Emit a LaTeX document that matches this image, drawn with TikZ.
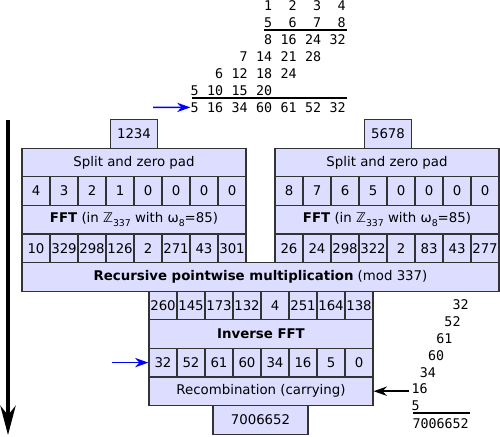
\documentclass[tikz,border=0pt]{standalone}
\usepackage{fontspec}
\setmainfont{DejaVu Sans}
\setmonofont{DejaVu Sans Mono}
\usetikzlibrary{arrows.meta}
\definecolor{cellfill}{RGB}{221,221,255}
\definecolor{cellline}{RGB}{51,51,51}
\newcommand{\lowtext}[1]{\raisebox{-0.45ex}{\scriptsize #1}}

\begin{document}
\begin{tikzpicture}[x=0.75pt,y=0.75pt,yscale=-1,
  cell/.style={draw=cellline,fill=cellfill,line width=0.9pt,inner sep=0pt,minimum width=21pt,minimum height=21.45pt},
  bar/.style={cell,minimum width=168pt},
  widebar/.style={cell,minimum width=357.75pt},
  numbox/.style={cell,minimum width=35.25pt},
  digit/.style={font=\ttfamily,inner sep=0pt,anchor=east},
  pointer/.style={-{Stealth[length=10pt,width=7pt]},line width=1.2pt}]

\useasboundingbox (0,0) rectangle (500,436);

%Long hand product 
\foreach \r/\c/\vals in {1/3/{1,2,3,4},2/3/{5,6,7,8},3/3/{8,16,24,32},4/2/{7,14,21,28},5/1/{6,12,18,24},6/0/{5,10,15,20},7/0/{5,16,34,60,61,52,32}}
  \foreach \v [count=\i from \c] in \vals
    \node[digit] (p-\r-\i) at (199+24.5*\i,6+16.9*\r-16.9) {\v};
\draw [line width=1pt] (264,30) -- (347,30) ;
\draw [line width=1pt] (192,98) -- (347,98) ;

%Left operand
\node[numbox] (inA) at (134,133.8) {1234};
\node[bar] (splitA) at (134,162.4) {Split and zero pad};
\foreach \v [count=\i from 0] in {4,3,2,1,0,0,0,0}
  \node[cell] (a-\i) at (36+28*\i,191) {\v};
\node[bar] (fftA) at (134,219.6) {\textbf{FFT} (in ℤ\lowtext{337} with ω\lowtext{8}=85)};
\foreach \v [count=\i from 0] in {10,329,298,126,2,271,43,301}
  \node[cell] (fa-\i) at (36+28*\i,248.2) {\v};

%Right operand
\node[numbox] (inB) at (388,133.8) {5678};
\node[bar] (splitB) at (387,162.4) {Split and zero pad};
\foreach \v [count=\i from 0] in {8,7,6,5,0,0,0,0}
  \node[cell] (b-\i) at (289+28*\i,191) {\v};
\node[bar] (fftB) at (387,219.6) {\textbf{FFT} (in ℤ\lowtext{337} with ω\lowtext{8}=85)};
\foreach \v [count=\i from 0] in {26,24,298,322,2,83,43,277}
  \node[cell] (fb-\i) at (289+28*\i,248.2) {\v};

%Product and back
\node[widebar] (rpm) at (260.5,276.8) {\textbf{Recursive pointwise multiplication} (mod 337)};
\foreach \v [count=\i from 0] in {260,145,173,132,4,251,164,138}
  \node[cell] (pw-\i) at (163+28*\i,305.4) {\v};
\node[bar] (ifft) at (261,334) {\textbf{Inverse FFT}};
\foreach \v [count=\i from 0] in {32,52,61,60,34,16,5,0}
  \node[cell] (c-\i) at (163+28*\i,362.6) {\v};
\node[bar] (recomb) at (261,391.2) {Recombination (carrying)};
\node[cell,minimum width=71.25pt] (result) at (260.5,419.8) {7006652};

%Carrying sum
\foreach \v [count=\i from 0] in {32,52,61,60,34,16,5}
  \node[digit] (s-\i) at (469-8.2*\i,305+16.8*\i) {\v};
\draw [line width=1pt] (413,413) -- (470,413) ;
\node[digit] (total) at (469,423.5) {7006652};

%Arrows
\coordinate (topin) at (153,107.4);
\draw [pointer,blue] (topin) -- (p-7-0.west);
\coordinate (coefin) at (112,362.6);
\draw [pointer,blue] (coefin) -- (c-0.west);
\coordinate (carryin) at (409,391.2);
\draw [pointer] (carryin) -- (recomb.east);
\coordinate (flowtop) at (8,120);
\coordinate (flowend) at (8,435);
\draw [line width=2.6pt,-{Stealth[length=22pt,width=11.5pt]}] (flowtop) -- (flowend);
\end{tikzpicture}
\end{document}
